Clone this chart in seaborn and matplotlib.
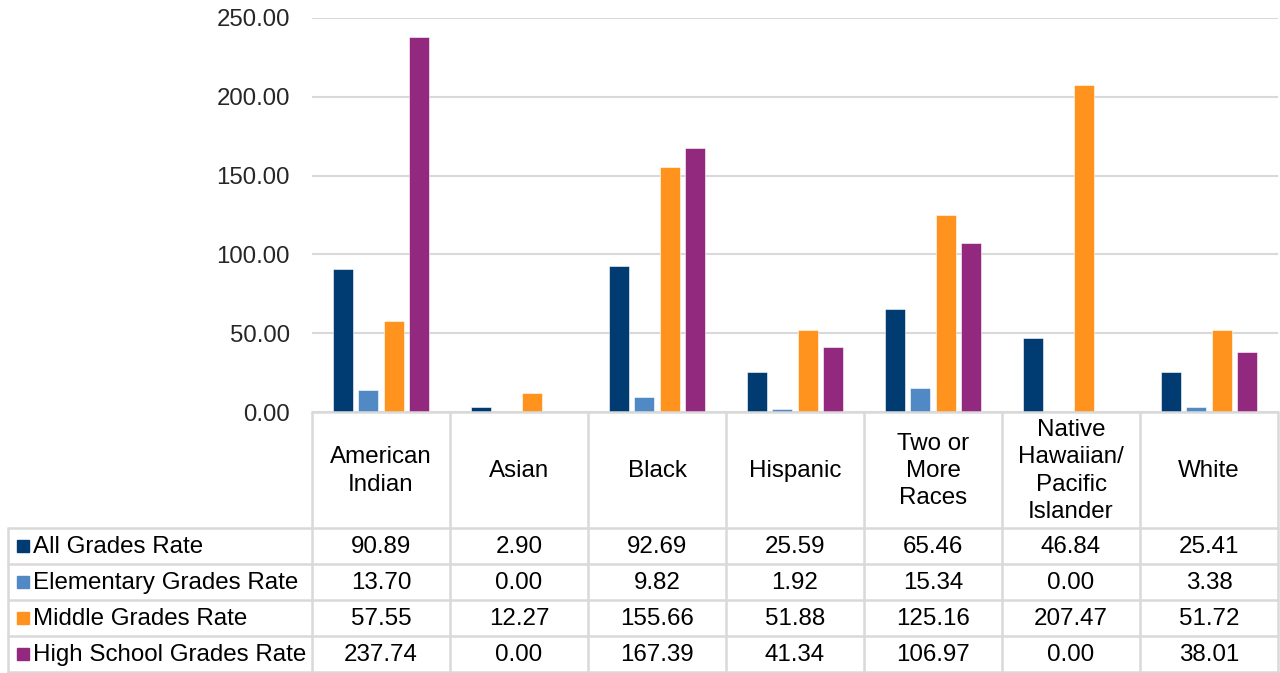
import pandas as pd
import seaborn as sns
from matplotlib import pyplot as plt
from matplotlib.patches import Rectangle

groups = ["American\nIndian", "Asian", "Black", "Hispanic",
          "Two or\nMore\nRaces", "Native\nHawaiian/\nPacific\nIslander", "White"]
series = ["All Grades Rate", "Elementary Grades Rate",
          "Middle Grades Rate", "High School Grades Rate"]
all_grades = [90.89, 2.90, 92.69, 25.59, 65.46, 46.84, 25.41]
elementary = [13.70, 0.00, 9.82, 1.92, 15.34, 0.00, 3.38]
middle = [57.55, 12.27, 155.66, 51.88, 125.16, 207.47, 51.72]
high_school = [237.74, 0.00, 167.39, 41.34, 106.97, 0.00, 38.01]
colors = ["#003B71", "#5089C4", "#FF931E", "#93287F"]

values = [all_grades, elementary, middle, high_school]
rows = []
for s, vals in zip(series, values):
    for g, v in zip(groups, vals):
        rows.append({"group": g, "series": s, "rate": v})
df = pd.DataFrame(rows)

sns.set_style("white")
plt.rcParams['font.family'] = ['Liberation Sans', 'DejaVu Sans']

W, H = 1280, 673
fig = plt.figure(figsize=(W / 100, H / 100), dpi=100)

# pixel layout
px_left, px_right, px_top, px_bottom = 312, 1278, 18, 412
ax = fig.add_axes([px_left / W, 1 - px_bottom / H,
                   (px_right - px_left) / W, (px_bottom - px_top) / H])

sns.barplot(data=df, x="group", y="rate", hue="series", order=groups,
            hue_order=series, palette=colors, saturation=1, width=0.725, gap=0.2,
            edgecolor="white", linewidth=0.4, ax=ax, legend=False, zorder=3)

ax.set_ylim(0, 250)
ax.set_xlim(-0.5, len(groups) - 0.5)
ax.set_yticks(range(0, 251, 50))
ax.set_yticklabels([f"{t:.2f}" for t in range(0, 251, 50)], fontsize=17.3)
ax.tick_params(axis="y", length=0, pad=16)
ax.set_xticks([])
ax.set_xlabel("")
ax.set_ylabel("")
ax.grid(axis="y", color="#D9D9D9", linewidth=1.5, zorder=0)
for sp in ax.spines.values():
    sp.set_visible(False)

# data table drawn in pixel coordinates
tab = fig.add_axes([0, 0, 1, 1], facecolor="none")
tab.set_xlim(0, W)
tab.set_ylim(H, 0)
tab.axis("off")

line_c = "#D9D9D9"
lw = 1.8
col_w = (px_right - px_left) / len(groups)
header_bottom = 528
row_h = 36
table_left = 8
n_rows = len(series)
table_bottom = header_bottom + n_rows * row_h

# horizontal lines
tab.plot([px_left, px_right], [px_bottom, px_bottom], color=line_c, lw=lw)
for i in range(n_rows + 1):
    y = header_bottom + i * row_h
    tab.plot([table_left, px_right], [y, y], color=line_c, lw=lw)
# vertical lines
for j in range(len(groups) + 1):
    x = px_left + j * col_w
    tab.plot([x, x], [px_bottom, table_bottom], color=line_c, lw=lw)
tab.plot([table_left, table_left], [header_bottom, table_bottom], color=line_c, lw=lw)

fs = 17.4
for j, g in enumerate(groups):
    cx = px_left + (j + 0.5) * col_w
    tab.text(cx, (px_bottom + header_bottom) / 2 + 1, g, ha="center", va="center",
             fontsize=fs, linespacing=1.3, color="#000000")

for i, (s, vals, c) in enumerate(zip(series, values, colors)):
    cy = header_bottom + (i + 0.5) * row_h
    tab.add_patch(Rectangle((17, cy - 6), 12, 12, color=c))
    tab.text(33, cy + 1, s, ha="left", va="center", fontsize=fs, color="#000000")
    for j, v in enumerate(vals):
        cx = px_left + (j + 0.5) * col_w
        tab.text(cx, cy + 1, f"{v:.2f}", ha="center", va="center",
                 fontsize=fs, color="#000000")

fig.savefig("out.png", dpi=100)
